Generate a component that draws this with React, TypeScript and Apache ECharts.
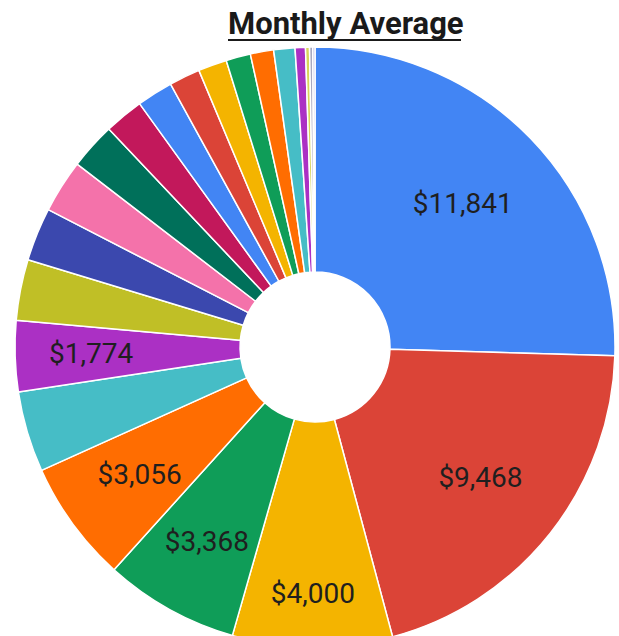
import React, { useEffect, useRef } from "react";
import * as echarts from "echarts";

const titleText = "Monthly Average";

const categories = [
  "Item 1", "Item 2", "Item 3", "Item 4", "Item 5", "Item 6", "Item 7", "Item 8",
  "Item 9", "Item 10", "Item 11", "Item 12", "Item 13", "Item 14", "Item 15", "Item 16",
  "Item 17", "Item 18", "Item 19", "Item 20", "Item 21", "Item 22",
];

const values = [
  11841, 9468, 4000, 3368, 3056, 2019, 1774, 1527, 1333, 1333, 1165,
  984, 906, 776, 718, 615, 582, 531, 259, 100, 80, 55,
];

const sliceColors = [
  "#4285F4", "#DB4437", "#F4B400", "#0F9D58", "#FF6D01", "#46BDC6",
  "#AB30C4", "#C0BF26", "#3B48AE", "#F472AA", "#00705A", "#C2185B",
  "#4285F4", "#DB4437", "#F4B400", "#0F9D58", "#FF6D01", "#46BDC6",
  "#AB30C4", "#D8D45A", "#A8A8C0", "#B9B4E0",
];

// which slices show a value label, and at what radius (px from centre)
const labelRadius: Record<number, number> = { 0: 206, 1: 211, 2: 247, 3: 223, 4: 217, 6: 224 };

const CENTER = [315, 347];

export default function App() {
  const ref = useRef<HTMLDivElement>(null);
  useEffect(() => {
    if (!ref.current) return;
    const chart = echarts.init(ref.current, null, { renderer: "svg" });
    const data = values.map((v, i) => ({
      name: categories[i],
      value: v,
      itemStyle: { color: sliceColors[i % sliceColors.length] },
      label: { show: labelRadius[i] != null },
    }));
    chart.setOption({
      animation: false,
      backgroundColor: "#ffffff",
      title: {
        text: titleText,
        left: 228,
        top: 8,
        padding: 0,
        textStyle: {
          fontFamily: "Roboto",
          fontWeight: "bold",
          fontSize: 31,
          color: "#1a1a1a",
        },
      },
      graphic: [
        {
          type: "line",
          shape: { x1: 228, y1: 40, x2: 461, y2: 40 },
          style: { stroke: "#1a1a1a", lineWidth: 2 },
        },
      ],
      series: [
        {
          type: "pie",
          center: CENTER,
          radius: [75, 300],
          startAngle: 90,
          clockwise: true,
          avoidLabelOverlap: false,
          itemStyle: { borderColor: "#ffffff", borderWidth: 1.5 },
          label: {
            position: "inside",
            fontFamily: "Roboto",
            fontSize: 28,
            color: "#1f1f1f",
            formatter: (p: any) => "$" + Number(p.value).toLocaleString("en-US"),
          },
          labelLine: { show: false },
          emphasis: { disabled: true },
          labelLayout: (params: any) => {
            const r = labelRadius[params.dataIndex];
            if (r == null) return {};
            const lr = params.labelRect;
            const lx = lr.x + lr.width / 2;
            const ly = lr.y + lr.height / 2;
            const vx = lx - CENTER[0];
            const vy = ly - CENTER[1];
            const d = Math.hypot(vx, vy) || 1;
            return { dx: (vx / d) * (r - d), dy: (vy / d) * (r - d) };
          },
          data,
        },
      ],
    });
    return () => chart.dispose();
  }, []);
  return (
    <div
      ref={ref}
      style={{ position: "fixed", left: 0, top: 0, width: 619, height: 636 }}
    />
  );
}
